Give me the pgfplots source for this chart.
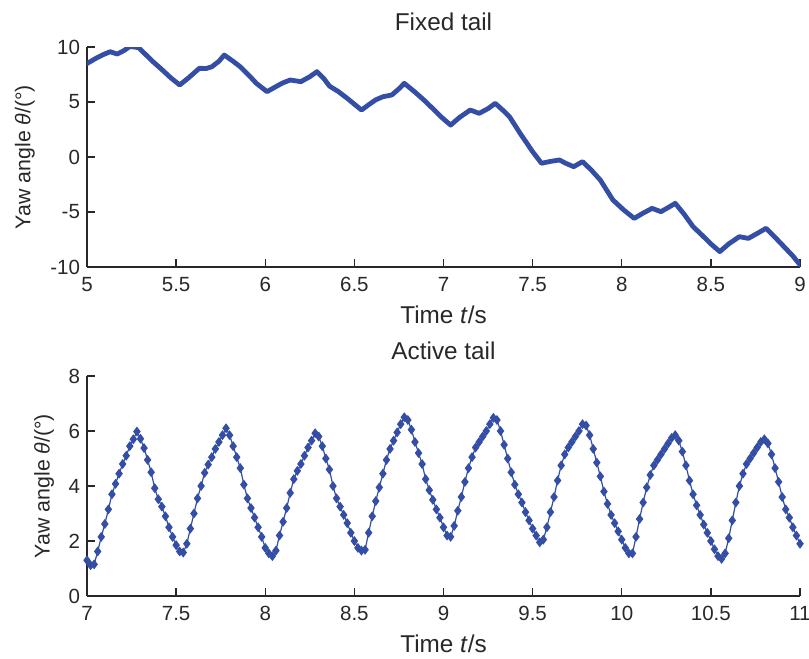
\documentclass[border=0pt]{standalone}
\usepackage{fontspec}
\setmainfont{Liberation Sans}
\usepackage{pgfplots}
\pgfplotsset{compat=1.18}
\definecolor{myblue}{RGB}{52,78,165}
\definecolor{axgray}{RGB}{40,40,40}

\pgfplotstableread{
t v
5.00 8.50
5.05 8.97
5.09 9.30
5.13 9.57
5.17 9.36
5.21 9.70
5.24 10.05
5.29 9.94
5.33 9.30
5.37 8.67
5.42 7.95
5.47 7.20
5.52 6.55
5.57 7.20
5.63 8.06
5.67 8.05
5.70 8.20
5.74 8.70
5.77 9.27
5.82 8.70
5.86 8.20
5.91 7.40
5.95 6.70
6.01 5.94
6.06 6.40
6.10 6.75
6.14 7.00
6.20 6.85
6.25 7.30
6.29 7.76
6.33 7.10
6.36 6.45
6.41 5.95
6.46 5.33
6.50 4.80
6.54 4.27
6.58 4.75
6.62 5.20
6.66 5.48
6.71 5.64
6.75 6.20
6.78 6.70
6.84 5.90
6.89 5.18
6.94 4.40
6.99 3.60
7.04 2.90
7.09 3.60
7.15 4.27
7.20 3.97
7.25 4.40
7.29 4.88
7.33 4.30
7.37 3.67
7.43 2.15
7.47 1.20
7.50 0.48
7.55 -0.57
7.60 -0.40
7.65 -0.27
7.69 -0.60
7.73 -0.88
7.78 -0.42
7.83 -1.20
7.88 -2.10
7.95 -3.90
8.01 -4.80
8.07 -5.58
8.12 -5.10
8.17 -4.67
8.22 -4.97
8.26 -4.60
8.30 -4.21
8.35 -5.20
8.40 -6.33
8.45 -7.10
8.50 -7.90
8.55 -8.60
8.60 -7.90
8.66 -7.24
8.71 -7.40
8.76 -6.95
8.81 -6.48
8.86 -7.30
8.91 -8.15
8.96 -9.00
9.00 -9.80
}\fixedtail

\pgfplotstableread{
t v
7.00 1.30
7.02 1.12
7.04 1.15
7.06 1.62
7.08 2.15
7.10 2.62
7.12 3.15
7.14 3.70
7.16 4.08
7.18 4.45
7.20 4.80
7.22 5.10
7.24 5.45
7.26 5.70
7.28 5.98
7.30 5.72
7.32 5.38
7.34 4.95
7.36 4.50
7.38 3.92
7.40 3.52
7.42 3.25
7.44 2.90
7.46 2.50
7.48 2.15
7.50 1.85
7.52 1.62
7.54 1.58
7.56 1.90
7.58 2.45
7.60 3.00
7.62 3.55
7.64 4.00
7.66 4.48
7.68 4.78
7.70 5.05
7.72 5.35
7.74 5.60
7.76 5.85
7.78 6.10
7.80 5.85
7.82 5.45
7.84 5.05
7.86 4.65
7.88 4.05
7.90 3.55
7.92 3.20
7.94 2.85
7.96 2.50
7.98 2.15
8.00 1.75
8.02 1.55
8.04 1.45
8.06 1.65
8.08 2.20
8.10 2.70
8.12 3.20
8.14 3.75
8.16 4.25
8.18 4.55
8.20 4.80
8.22 5.10
8.24 5.40
8.26 5.65
8.28 5.92
8.30 5.80
8.32 5.45
8.34 5.00
8.36 4.60
8.38 4.00
8.40 3.55
8.42 3.25
8.44 2.95
8.46 2.65
8.48 2.30
8.50 2.00
8.52 1.75
8.54 1.65
8.56 1.68
8.58 2.30
8.60 2.90
8.62 3.45
8.64 3.95
8.66 4.45
8.68 4.95
8.70 5.35
8.72 5.65
8.74 5.95
8.76 6.25
8.78 6.50
8.80 6.40
8.82 6.05
8.84 5.60
8.86 5.20
8.88 4.80
8.90 4.25
8.92 3.85
8.94 3.50
8.96 3.15
8.98 2.85
9.00 2.50
9.02 2.20
9.04 2.15
9.06 2.55
9.08 3.10
9.10 3.60
9.12 4.15
9.14 4.65
9.16 5.05
9.18 5.40
9.20 5.60
9.22 5.80
9.24 6.00
9.26 6.25
9.28 6.48
9.30 6.40
9.32 6.00
9.34 5.50
9.36 5.00
9.38 4.50
9.40 4.05
9.42 3.70
9.44 3.40
9.46 3.05
9.48 2.75
9.50 2.45
9.52 2.20
9.54 1.95
9.56 2.05
9.58 2.50
9.60 3.05
9.62 3.60
9.64 4.20
9.66 4.75
9.68 5.15
9.70 5.40
9.72 5.60
9.74 5.80
9.76 6.00
9.78 6.25
9.80 6.20
9.82 5.85
9.84 5.35
9.86 4.85
9.88 4.35
9.90 3.80
9.92 3.35
9.94 2.95
9.96 2.65
9.98 2.35
10.00 2.05
10.02 1.75
10.04 1.55
10.06 1.55
10.08 2.15
10.10 2.80
10.12 3.40
10.14 3.95
10.16 4.40
10.18 4.75
10.20 4.95
10.22 5.15
10.24 5.35
10.26 5.55
10.28 5.75
10.30 5.85
10.32 5.65
10.34 5.25
10.36 4.75
10.38 4.20
10.40 3.70
10.42 3.30
10.44 2.95
10.46 2.60
10.48 2.30
10.50 2.00
10.52 1.70
10.54 1.45
10.56 1.35
10.58 1.55
10.60 2.10
10.62 2.75
10.64 3.40
10.66 4.00
10.68 4.45
10.70 4.80
10.72 5.00
10.74 5.20
10.76 5.40
10.78 5.60
10.80 5.70
10.82 5.55
10.84 5.15
10.86 4.65
10.88 4.15
10.90 3.60
10.92 3.15
10.94 2.85
10.96 2.50
10.98 2.20
11.00 1.90
}\activetail

\pgfplotsset{
  myaxis/.style={
    scale only axis, width=356.5bp, height=110bp,
    axis x line=bottom, axis y line=left,
    axis line style={-, line width=0.8bp, axgray},
    tick style={line width=0.7bp, axgray},
    major tick length=4bp,
    tick align=inside,
    /pgf/number format/assume math mode=true,
    ticklabel style={font=\fontsize{10.3}{12}\selectfont, text=axgray},
    xticklabel style={yshift=-1.5bp},
    every axis title/.style={at={(axis description cs:0.5,1)}, anchor=base, yshift=8.5bp, font=\fontsize{12.2}{14}\selectfont, text=axgray},
    every axis x label/.style={at={(axis description cs:0.5,0)}, anchor=base, yshift=-28bp, font=\fontsize{12.2}{14}\selectfont, text=axgray},
    every axis y label/.style={at={(axis description cs:#1,0.5)}, rotate=90, anchor=center, font=\fontsize{10.7}{14}\selectfont, text=axgray},
  }
}

\begin{document}
\begin{tikzpicture}
\path[use as bounding box] (-43.5bp,-196bp) rectangle (361bp,133.5bp);
\begin{axis}[myaxis={-0.087},
  xmin=5, xmax=9, ymin=-10, ymax=10,
  xtick={5,5.5,...,9}, ytick={-10,-5,0,5,10},
  title={Fixed tail},
  xlabel={Time \textit{t}/s},
  ylabel={Yaw angle \textit{θ}/(°)},
]
\addplot[myblue, line width=2.4bp, line join=round, line cap=round] table[x=t, y=v] {\fixedtail};
\end{axis}
\begin{axis}[myaxis={-0.06}, at={(0,-164.5bp)},
  xmin=7, xmax=11, ymin=0, ymax=8,
  xtick={7,7.5,...,11}, ytick={0,2,4,6,8},
  title={Active tail},
  xlabel={Time \textit{t}/s},
  ylabel={Yaw angle \textit{θ}/(°)},
  clip=false,
]
\addplot[myblue, line width=0.6bp, mark=diamond*, mark size=2bp, mark options={fill=myblue, draw=myblue}] table[x=t, y=v] {\activetail};
\end{axis}
\end{tikzpicture}
\end{document}
